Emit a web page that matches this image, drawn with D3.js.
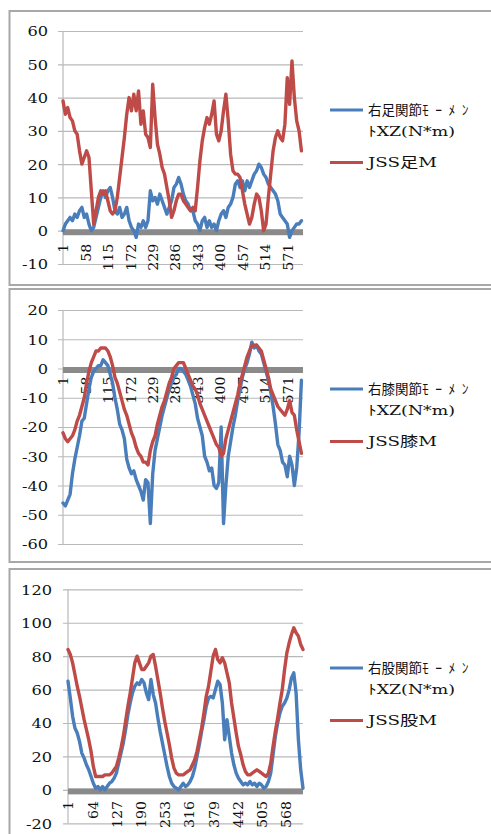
<!DOCTYPE html>
<html>
<head>
<meta charset="utf-8">
<script src="https://cdn.jsdelivr.net/npm/d3@7"></script>
<style>
  html, body { margin: 0; padding: 0; background: #fff; }
  svg { display: block; }
  svg text { font-family: "DejaVu Serif", "Liberation Serif", "Noto Sans CJK JP", serif; }
</style>
</head>
<body>
<svg id="chart" width="491" height="834"></svg>
<script>
// ---- data ---------------------------------------------------------------
// Each series is sampled every `sampleStep` frames, starting at frame 1.
const sampleStep = 6;

const ankleFrameCount = 611;
const kneeFrameCount = 611;
const hipFrameCount = 613;

const ankleFrameTicks = [1, 58, 115, 172, 229, 286, 343, 400, 457, 514, 571];
const kneeFrameTicks = [1, 58, 115, 172, 229, 286, 343, 400, 457, 514, 571];
const hipFrameTicks = [1, 64, 127, 190, 253, 316, 379, 442, 505, 568];

const ankleValueTicks = [-10, 0, 10, 20, 30, 40, 50, 60];
const kneeValueTicks = [-60, -50, -40, -30, -20, -10, 0, 10, 20];
const hipValueTicks = [-20, 0, 20, 40, 60, 80, 100, 120];

// right ankle joint moment XZ (N*m)
const ankleMeasured = [
  0, 2, 3, 4, 3, 5, 4, 6, 7, 4,
  5, 2, 0, 1, 4, 7, 10, 12, 10, 12,
  13, 10, 6, 5, 7, 4, 5, 7, 3, 1,
  0, -2, 2, 1, 3, 1, 3, 12, 9, 10,
  8, 11, 9, 7, 5, 7, 9, 13, 14, 16,
  14, 11, 9, 8, 6, 6, 3, 2, 0, 3,
  4, 1, 3, 1, 2, 0, 3, 5, 6, 4,
  7, 8, 10, 14, 15, 13, 15, 12, 15, 13,
  15, 17, 18, 20, 19, 17, 16, 14, 13, 12,
  11, 9, 5, 4, 3, 2, -2, 0, 1, 2,
  2, 3
];
// JSS ankle M
const ankleJSS = [
  39, 35, 37, 34, 33, 30, 29, 24, 20, 22,
  24, 22, 12, 2, 6, 10, 12, 11, 12, 9,
  6, 5, 6, 10, 16, 22, 28, 35, 40, 36,
  41, 36, 42, 32, 36, 29, 28, 25, 44, 34,
  26, 23, 19, 17, 13, 9, 4, 6, 9, 11,
  11, 9, 8, 7, 6, 7, 6, 13, 21, 27,
  31, 34, 32, 35, 39, 29, 27, 30, 36, 41,
  33, 23, 18, 17, 17, 16, 12, 8, 5, 2,
  4, 8, 11, 10, 6, 0, 2, 10, 17, 24,
  28, 30, 28, 27, 32, 46, 38, 51, 40, 33,
  30, 24
];

// right knee joint moment XZ (N*m)
const kneeMeasured = [
  -46, -47, -45, -43, -36, -31, -27, -23, -18, -17,
  -12, -7, -3, -1, 0, 1, 1, 3, 2, 1,
  -2, -5, -10, -14, -19, -21, -24, -31, -34, -36,
  -35, -38, -40, -42, -45, -38, -39, -53, -36, -28,
  -24, -20, -16, -13, -10, -7, -5, -3, -2, 0,
  0, -1, -2, -4, -6, -9, -12, -17, -20, -23,
  -30, -32, -35, -34, -40, -41, -39, -20, -53, -40,
  -30, -25, -20, -16, -11, -7, -3, 0, 2, 5,
  9, 7, 8, 6, 5, 2, -1, -4, -8, -13,
  -19, -26, -28, -32, -33, -37, -30, -33, -40, -34,
  -22, -4
];
// JSS knee M
const kneeJSS = [
  -22, -24, -25, -24, -23, -21, -18, -16, -13, -10,
  -5, -1, 2, 4, 6, 6, 7, 7, 7, 6,
  4, 1, -3, -5, -8, -11, -14, -16, -19, -22,
  -24, -27, -29, -30, -32, -32, -33, -28, -25, -23,
  -19, -16, -13, -11, -8, -5, -3, 0, 1, 2,
  2, 2, 0, -2, -4, -6, -7, -9, -12, -14,
  -16, -18, -20, -22, -24, -26, -27, -30, -29, -24,
  -21, -18, -15, -12, -9, -5, -2, 1, 4, 6,
  8, 8, 8, 7, 6, 3, 0, -3, -7, -9,
  -11, -13, -14, -15, -16, -14, -11, -15, -16, -21,
  -25, -29
];

// right hip joint moment XZ (N*m)
const hipMeasured = [
  65, 55, 44, 37, 34, 29, 22, 19, 15, 12,
  8, 4, 1, 2, 0, 2, 0, 2, 4, 5,
  7, 10, 16, 22, 28, 36, 45, 52, 58, 62,
  64, 63, 66, 64, 58, 54, 66, 57, 52, 43,
  35, 28, 21, 14, 8, 4, 2, 1, 0, 2,
  4, 2, 3, 5, 8, 13, 20, 27, 35, 42,
  50, 55, 56, 55, 60, 65, 63, 52, 30, 42,
  32, 22, 15, 10, 7, 5, 3, 4, 3, 5,
  3, 4, 2, 4, 3, 1, 2, 5, 10, 21,
  32, 40, 46, 50, 52, 55, 60, 67, 70, 58,
  30, 12, 1
];
// JSS hip M
const hipJSS = [
  84, 81, 76, 69, 62, 56, 49, 42, 36, 30,
  23, 14, 8, 8, 8, 8, 9, 9, 9, 10,
  12, 14, 19, 25, 32, 41, 50, 58, 67, 76,
  80, 76, 72, 72, 74, 76, 80, 81, 74, 66,
  58, 49, 41, 34, 27, 19, 13, 10, 9, 9,
  9, 10, 11, 12, 15, 18, 23, 30, 37, 46,
  56, 62, 71, 80, 84, 78, 76, 79, 76, 70,
  64, 52, 43, 34, 26, 21, 15, 11, 9, 9,
  10, 11, 12, 11, 10, 9, 8, 10, 16, 26,
  35, 43, 52, 60, 72, 82, 88, 93, 97, 94,
  92, 87, 84
];

const ankleLegend = ["右足関節ﾓｰﾒﾝ", "ﾄXZ(N*m)", "JSS足M"];
const kneeLegend = ["右膝関節ﾓｰﾒﾝ", "ﾄXZ(N*m)", "JSS膝M"];
const hipLegend = ["右股関節ﾓｰﾒﾝ", "ﾄXZ(N*m)", "JSS股M"];

// ---- layout -------------------------------------------------------------
const panels = [
  { frameTop: 11, frameBottom: 285, left: 63, right: 303, top: 31, bottom: 264,
    labelGap: 13, valueLabelGap: 15, legendY: 110,
    count: ankleFrameCount, frameTicks: ankleFrameTicks, valueTicks: ankleValueTicks,
    measured: ankleMeasured, jss: ankleJSS, legend: ankleLegend },
  { frameTop: 289, frameBottom: 562, left: 63, right: 303, top: 310, bottom: 544,
    labelGap: 8, valueLabelGap: 15, legendY: 389,
    count: kneeFrameCount, frameTicks: kneeFrameTicks, valueTicks: kneeValueTicks,
    measured: kneeMeasured, jss: kneeJSS, legend: kneeLegend },
  { frameTop: 569, frameBottom: 850, left: 68, right: 303, top: 589.3, bottom: 823.3,
    labelGap: 11, valueLabelGap: 16, legendY: 668,
    count: hipFrameCount, frameTicks: hipFrameTicks, valueTicks: hipValueTicks,
    measured: hipMeasured, jss: hipJSS, legend: hipLegend }
];

const BLUE = "#4a7ebb";
const RED = "#be4b48";
const GRID = "#b9b9b9";
const TICK_FONT_SIZE = "13.5px";
const VALUE_STRETCH = 1.2;
const FRAME_STRETCH = 1.05;
const LEGEND_X = 368;
const LEGEND_FONT_SIZE = "13.5px";
// total widths (px) of the three legend rows
const legendRowWidths = [107, 87, 69];

const svg = d3.select("#chart");
svg.append("rect").attr("width", 491).attr("height", 834).attr("fill", "#fff");

function drawPanel(p) {
  const g = svg.append("g");

  // chart frame
  g.append("rect")
    .attr("x", 9.5).attr("y", p.frameTop)
    .attr("width", 495).attr("height", p.frameBottom - p.frameTop)
    .attr("fill", "#fff").attr("stroke", "#a8a8a8").attr("stroke-width", 2);

  const x = d3.scaleLinear().domain([1, p.count]).range([p.left, p.right]);
  const y = d3.scaleLinear().domain(d3.extent(p.valueTicks)).range([p.bottom, p.top]);

  // horizontal gridlines with short outside tick marks
  const grid = g.append("g")
    .attr("transform", `translate(${p.right},0)`)
    .call(d3.axisLeft(y).tickValues(p.valueTicks).tickSize(p.right - p.left + 5).tickFormat(""));
  grid.select(".domain").remove();
  grid.selectAll(".tick line").attr("stroke", GRID).attr("stroke-width", 1.2);

  // value axis line
  g.append("line")
    .attr("x1", p.left).attr("x2", p.left)
    .attr("y1", y(p.valueTicks[p.valueTicks.length - 1])).attr("y2", y(p.valueTicks[0]))
    .attr("stroke", GRID).attr("stroke-width", 1.2);

  // value labels
  const yLabels = g.append("g")
    .attr("transform", `translate(${p.left},0)`)
    .call(d3.axisLeft(y).tickValues(p.valueTicks).tickSize(0).tickFormat(d => String(d)));
  yLabels.select(".domain").remove();
  yLabels.selectAll(".tick text")
    .attr("x", -p.valueLabelGap / VALUE_STRETCH)
    .attr("dy", "0.36em")
    .attr("transform", `scale(${VALUE_STRETCH},1)`)
    .style("font-size", TICK_FONT_SIZE).attr("fill", "#111");

  // category axis drawn as a thick grey band at zero
  g.append("rect")
    .attr("x", p.left).attr("width", p.right - p.left)
    .attr("y", y(0) - 1.5).attr("height", 6)
    .attr("fill", "#8a8a8a");

  // rotated frame-number labels
  const xLabels = g.append("g")
    .attr("transform", `translate(0,${y(0) + p.labelGap})`)
    .call(d3.axisBottom(x).tickValues(p.frameTicks).tickSize(0));
  xLabels.select(".domain").remove();
  xLabels.selectAll(".tick text")
    .attr("x", 0).attr("y", 0).attr("dy", "0.36em")
    .attr("text-anchor", "end")
    .attr("transform", `rotate(-90) scale(${FRAME_STRETCH},1)`)
    .style("font-size", TICK_FONT_SIZE).attr("fill", "#111");

  // series
  const line = d3.line()
    .x((v, k) => x(1 + k * sampleStep))
    .y(v => y(v));
  [[p.measured, BLUE], [p.jss, RED]].forEach(([vals, color]) => {
    g.append("path")
      .datum(vals)
      .attr("d", line)
      .attr("fill", "none")
      .attr("stroke", color)
      .attr("stroke-width", 3.4)
      .attr("stroke-linejoin", "round")
      .attr("stroke-linecap", "round");
  });

  // legend
  const lg = g.append("g").attr("fill", "#111");
  const rowY = [p.legendY, p.legendY + 21.5, p.legendY + 52.5];
  const rowColor = [BLUE, null, RED];
  p.legend.forEach((label, i) => {
    if (rowColor[i]) {
      lg.append("line")
        .attr("x1", 330).attr("x2", 363).attr("y1", rowY[i]).attr("y2", rowY[i])
        .attr("stroke", rowColor[i]).attr("stroke-width", 3.2);
    }
    const t = lg.append("text")
      .attr("x", LEGEND_X).attr("y", rowY[i]).attr("dy", "0.36em")
      .style("font-size", LEGEND_FONT_SIZE);
    if (i === 0) {
      // kanji at natural width, half-width kana spread to fill the row
      const runs = label.match(/[\uFF61-\uFF9F]+|[^\uFF61-\uFF9F]+/g);
      const head = t.append("tspan").text(runs[0]);
      const tail = t.append("tspan").text(runs[1]);
      const used = head.node().getComputedTextLength();
      const natural = tail.node().getComputedTextLength();
      const spacing = (legendRowWidths[0] - used - natural) / runs[1].length;
      tail.attr("letter-spacing", Math.max(0, spacing));
    } else {
      t.attr("textLength", legendRowWidths[i]).attr("lengthAdjust", "spacingAndGlyphs")
        .text(label);
    }
  });
}

panels.forEach(drawPanel);
</script>
</body>
</html>
